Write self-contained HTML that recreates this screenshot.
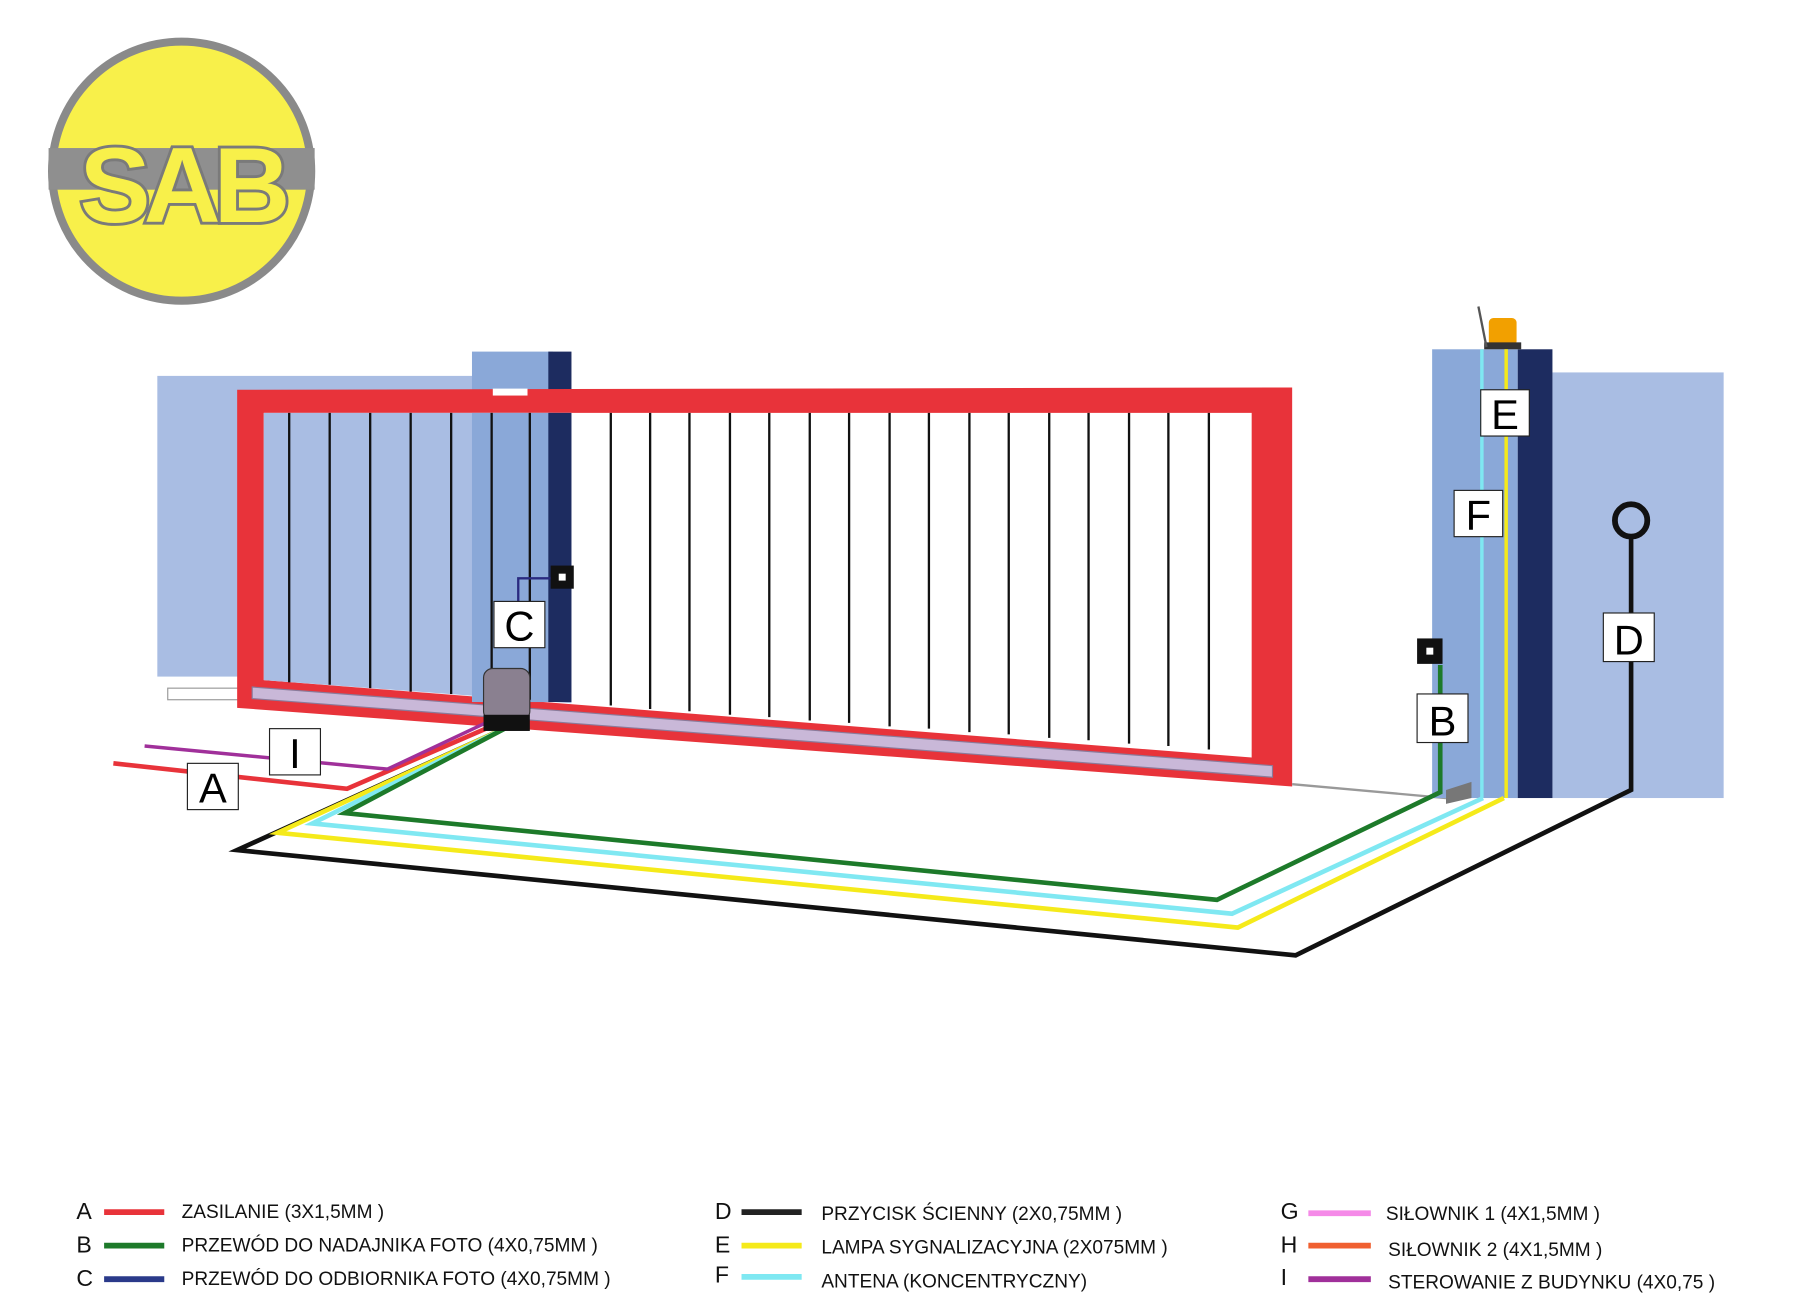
<!DOCTYPE html>
<html><head><meta charset="utf-8"><style>
html,body{margin:0;padding:0;background:#fff;}
svg{display:block;}
text{font-family:"Liberation Sans",sans-serif;}
</style></head><body>
<svg width="1800" height="1300" viewBox="0 0 1556 1124" preserveAspectRatio="none" xmlns="http://www.w3.org/2000/svg">
<rect width="1556" height="1124" fill="#fff"/>
<!-- logo -->
<circle cx="157" cy="148" r="112" fill="#f8f04a" stroke="#8a8a8a" stroke-width="7"/>
<rect x="42" y="128" width="230" height="36" fill="#8f8f8f"/>
<text x="157" y="192" text-anchor="middle" font-size="92" font-weight="bold" fill="#f8f04a" stroke="#7a7a7a" stroke-width="5" paint-order="stroke" font-family="Liberation Sans,sans-serif" letter-spacing="-6">SAB</text>
<!-- left wall -->
<rect x="136" y="325" width="274" height="260" fill="#a9bde3"/>
<rect x="145" y="595" width="70" height="10" fill="#fff" stroke="#999" stroke-width="1"/>
<!-- left pillar -->
<rect x="408" y="304" width="70" height="300" fill="#8aa8d8"/>
<rect x="474" y="304" width="20" height="300" fill="#1d2c60"/>
<!-- gate -->
<polygon points="205,337 1117,335 1117,680 205,612" fill="#e8333a"/>
<polygon points="228,357 1082,357 1082,655 228,588" fill="#fff"/>
<polygon points="228,357 494,357 494,608 228,588" fill="#a9bde3"/>
<rect x="408" y="357" width="70" height="250" fill="#8aa8d8"/>
<rect x="474" y="357" width="20" height="250" fill="#1d2c60"/>
<g stroke="#111" stroke-width="2">
<line x1="250" y1="357" x2="250" y2="590"/><line x1="285" y1="357" x2="285" y2="592"/><line x1="320" y1="357" x2="320" y2="595"/><line x1="355" y1="357" x2="355" y2="598"/><line x1="390" y1="357" x2="390" y2="600"/><line x1="425" y1="357" x2="425" y2="602"/><line x1="458" y1="357" x2="458" y2="605"/>
<line x1="528" y1="357" x2="528" y2="610"/><line x1="562" y1="357" x2="562" y2="613"/><line x1="596" y1="357" x2="596" y2="615"/><line x1="631" y1="357" x2="631" y2="618"/><line x1="665" y1="357" x2="665" y2="620"/><line x1="700" y1="357" x2="700" y2="623"/><line x1="734" y1="357" x2="734" y2="625"/><line x1="769" y1="357" x2="769" y2="628"/><line x1="803" y1="357" x2="803" y2="630"/><line x1="838" y1="357" x2="838" y2="633"/><line x1="872" y1="357" x2="872" y2="635"/><line x1="907" y1="357" x2="907" y2="638"/><line x1="941" y1="357" x2="941" y2="640"/><line x1="976" y1="357" x2="976" y2="643"/><line x1="1010" y1="357" x2="1010" y2="645"/><line x1="1045" y1="357" x2="1045" y2="648"/>
</g>
<polygon points="218,594 1100,662 1100,672 218,604" fill="#c9b8d8" stroke="#8a7a9a"/>
<line x1="1117" y1="678" x2="1250" y2="690" stroke="#999" stroke-width="2"/>
<rect x="426" y="336" width="30" height="6" fill="#fff"/>
<!-- right pillar and wall -->
<rect x="1342" y="322" width="148" height="368" fill="#a9bde3"/>
<rect x="1238" y="302" width="74" height="388" fill="#8aa8d8"/>
<rect x="1312" y="302" width="30" height="388" fill="#1d2c60"/>
<rect x="1287" y="275" width="24" height="24" rx="4" fill="#f2a000"/>
<rect x="1283" y="296" width="32" height="6" fill="#333"/>
<line x1="1278" y1="265" x2="1285" y2="300" stroke="#555" stroke-width="2"/>
<line x1="1281" y1="302" x2="1281" y2="690" stroke="#7fe8f2" stroke-width="3"/>
<line x1="1302" y1="302" x2="1302" y2="690" stroke="#f5ea1a" stroke-width="3"/>
<!-- cables -->
<g fill="none" stroke-width="4">
<polyline points="440,628 205,735 1120,826 1410,683 1410,462" stroke="#111"/>
<polyline points="440,628 240,720 1070,802 1300,690" stroke="#f5ea1a"/>
<polyline points="440,628 270,712 1065,790 1282,690" stroke="#7fe8f2"/>
<polyline points="440,628 298,703 1052,778 1245,685 1245,575" stroke="#1d7a2a"/>
<polyline points="98,660 300,682 420,630" stroke="#e8333a"/>
<polyline points="125,645 335,665 420,625" stroke="#a0309a" stroke-width="3"/>
</g>
<polyline points="448,535 448,500 484,500" fill="none" stroke="#2a2a80" stroke-width="2"/>
<rect x="476" y="489" width="20" height="20" fill="#111"/><rect x="483" y="496" width="6" height="6" fill="#fff"/>
<rect x="1225" y="552" width="22" height="22" fill="#111"/><rect x="1233" y="560" width="6" height="6" fill="#fff"/>
<polygon points="1250,683 1272,676 1272,690 1250,695" fill="#777"/>
<!-- motor -->
<rect x="418" y="578" width="40" height="45" rx="8" fill="#8a8090" stroke="#333"/>
<rect x="418" y="618" width="40" height="14" fill="#111"/>
<circle cx="1410" cy="450" r="14" fill="none" stroke="#111" stroke-width="5"/>
<!-- labels -->
<g font-size="36" text-anchor="middle">
<rect x="1280" y="337" width="42" height="40" fill="#fff" stroke="#222"/><text x="1301" y="371">E</text>
<rect x="1257" y="424" width="42" height="40" fill="#fff" stroke="#222"/><text x="1278" y="458">F</text>
<rect x="1386" y="530" width="44" height="42" fill="#fff" stroke="#222"/><text x="1408" y="566">D</text>
<rect x="1225" y="600" width="44" height="42" fill="#fff" stroke="#222"/><text x="1247" y="636">B</text>
<rect x="427" y="520" width="44" height="40" fill="#fff" stroke="#222"/><text x="449" y="554">C</text>
<rect x="233" y="630" width="44" height="40" fill="#fff" stroke="#222"/><text x="255" y="664">I</text>
<rect x="162" y="660" width="44" height="40" fill="#fff" stroke="#222"/><text x="184" y="694">A</text>
</g>
<!-- legend -->
<g font-size="16.5" fill="#111">
<text x="66" y="1054" font-size="20">A</text><line x1="90" y1="1048" x2="142" y2="1048" stroke="#e8333a" stroke-width="5"/><text x="157" y="1053">ZASILANIE (3X1,5MM  )</text>
<text x="66" y="1083" font-size="20">B</text><line x1="90" y1="1077" x2="142" y2="1077" stroke="#1d7a2a" stroke-width="5"/><text x="157" y="1082">PRZEWÓD DO NADAJNIKA FOTO (4X0,75MM  )</text>
<text x="66" y="1112" font-size="20">C</text><line x1="90" y1="1106" x2="142" y2="1106" stroke="#2a3a8a" stroke-width="5"/><text x="157" y="1111">PRZEWÓD DO ODBIORNIKA FOTO (4X0,75MM  )</text>
<text x="618" y="1054" font-size="20">D</text><line x1="641" y1="1048" x2="693" y2="1048" stroke="#222" stroke-width="5"/><text x="710" y="1055">PRZYCISK ŚCIENNY (2X0,75MM  )</text>
<text x="618" y="1083" font-size="20">E</text><line x1="641" y1="1077" x2="693" y2="1077" stroke="#f5ea1a" stroke-width="5"/><text x="710" y="1084">LAMPA SYGNALIZACYJNA (2X075MM  )</text>
<text x="618" y="1109" font-size="20">F</text><line x1="641" y1="1104" x2="693" y2="1104" stroke="#7fe8f2" stroke-width="5"/><text x="710" y="1113">ANTENA (KONCENTRYCZNY)</text>
<text x="1107" y="1054" font-size="20">G</text><line x1="1131" y1="1049" x2="1185" y2="1049" stroke="#f58ae8" stroke-width="5"/><text x="1198" y="1055">SIŁOWNIK 1 (4X1,5MM  )</text>
<text x="1107" y="1083" font-size="20">H</text><line x1="1131" y1="1077" x2="1185" y2="1077" stroke="#f06030" stroke-width="5"/><text x="1200" y="1086">SIŁOWNIK 2 (4X1,5MM  )</text>
<text x="1107" y="1111" font-size="20">I</text><line x1="1131" y1="1106" x2="1185" y2="1106" stroke="#a0309a" stroke-width="5"/><text x="1200" y="1114">STEROWANIE Z BUDYNKU (4X0,75  )</text>
</g>
</svg>
</body></html>
